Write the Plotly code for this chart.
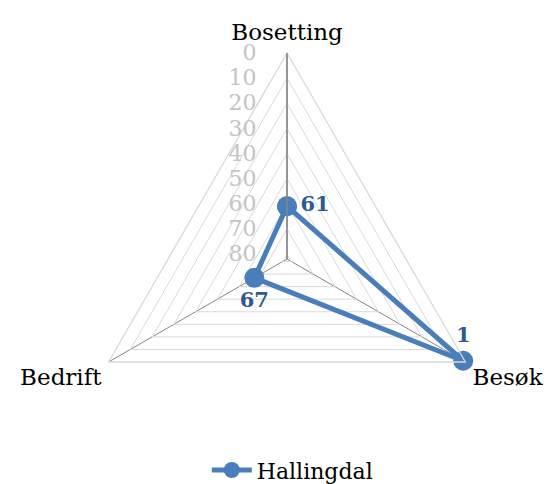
import plotly.graph_objects as go

# data
categories = ["Bosetting", "Besøk", "Bedrift"]
values = [61, 1, 67]
series_name = "Hallingdal"
radial_ticks = [0, 10, 20, 30, 40, 50, 60, 70, 80]

blue = "#4a7ebb"
label_blue = "#2f5a8f"
serif = "DejaVu Serif"

r = values + values[:1]
theta = categories + categories[:1]
text = [str(v) for v in values] + [""]

fig = go.Figure()
fig.add_trace(go.Scatterpolar(
    r=r,
    theta=theta,
    mode="lines+markers+text",
    name=series_name,
    line=dict(color=blue, width=5),
    marker=dict(color=blue, size=20),
    text=text,
    textposition=["middle right", "top center", "bottom center", "middle right"],
    textfont=dict(family=serif, size=21, color=label_blue, weight="bold"),
    cliponaxis=False,
))

# the page body adds an 8px margin, so the figure is laid out 8px up/left
fig.update_layout(
    width=552,
    height=484,
    margin=dict(l=0, r=0, t=0, b=0),
    paper_bgcolor="white",
    font=dict(family=serif, color="black"),
    showlegend=True,
    legend=dict(
        orientation="h",
        x=0.515, xanchor="center",
        y=0.045, yanchor="middle",
        font=dict(family=serif, size=22, color="black"),
        itemwidth=40,
    ),
    polar=dict(
        domain=dict(x=[0.13225, 0.87862], y=[0.05579, 0.90702]),
        bgcolor="white",
        gridshape="linear",
        radialaxis=dict(
            range=[82, 0],
            tickvals=radial_ticks,
            angle=90,
            tickangle=90,
            side="counterclockwise",
            showline=True,
            linecolor="#868686",
            linewidth=1.5,
            gridcolor="#d9d9d9",
            gridwidth=1.3,
            ticks="outside",
            ticklen=22,
            tickcolor="rgba(0,0,0,0)",
            tickfont=dict(family=serif, size=22, color="#c4c4c4"),
        ),
        angularaxis=dict(
            rotation=90,
            direction="clockwise",
            linecolor="#d9d9d9",
            linewidth=1.3,
            gridcolor="#868686",
            gridwidth=1.3,
            ticks="outside",
            ticklen=3,
            tickcolor="rgba(0,0,0,0)",
            tickfont=dict(family=serif, size=23, color="black"),
        ),
    ),
)

fig.write_html("out.html")
